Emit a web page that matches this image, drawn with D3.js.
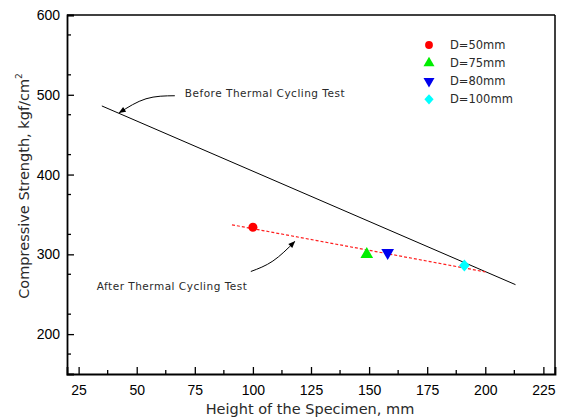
<!DOCTYPE html>
<html>
<head>
<meta charset="utf-8">
<script src="https://cdn.jsdelivr.net/npm/d3@7"></script>
<style>
  body { margin: 0; background: #fff; }
  .tick text { font-family: "Liberation Sans", Arial, sans-serif; font-size: 14px; fill: #000; }
  .lbl { font-family: "DejaVu Sans", Verdana, sans-serif; fill: #2a2a2a; }
</style>
</head>
<body>
<div id="container"></div>
<script>
// data
var xTicks = [25, 50, 75, 100, 125, 150, 175, 200, 225];
var yTicks = [200, 300, 400, 500, 600];

var seriesNames = ["D=50mm", "D=75mm", "D=80mm", "D=100mm"];
var seriesColors = ["#ff0000", "#00ee00", "#0000ee", "#00ffff"];
var seriesX = [100, 149, 158, 191];
var seriesY = [334, 300, 302, 286];

// fitted lines
var beforeLine = [[35, 486], [213, 262]];
var afterLine = [[91, 337], [200, 278]];

// annotations (data units)
var annBeforeText = [70.7, 497.5];
var annBeforeArrow = [[66.4, 498.8], [54, 495], [42.5, 477.5]];
var annAfterText = [32.8, 255];
var annAfterArrow = [[99.1, 278.5], [108.6, 291.6], [118, 316]];

var margin = {top: 15, right: 6, bottom: 45, left: 67},
    width = 561 - margin.left - margin.right,
    height = 419 - margin.top - margin.bottom;

var xScale = d3.scaleLinear().domain([20, 230]).range([0, width]);
var yScale = d3.scaleLinear().domain([150, 600]).range([height, 0]);

var svg = d3.select("#container").append("svg")
    .attr("width", 561)
    .attr("height", 419);
var g = svg.append("g")
    .attr("transform", "translate(" + margin.left + "," + margin.top + ")");

// arrowhead
svg.append("defs").append("marker")
    .attr("id", "arr")
    .attr("viewBox", "0 0 10 10")
    .attr("refX", 9).attr("refY", 5)
    .attr("markerWidth", 10).attr("markerHeight", 7)
    .attr("markerUnits", "userSpaceOnUse")
    .attr("orient", "auto")
  .append("path")
    .attr("d", "M0,1L10,5L0,9Z")
    .attr("fill", "#000");

// minor ticks
var xMinor = d3.range(12.5, 230, 25).filter(function(d) { return d > 20; });
var yMinor = d3.range(175, 600, 50);

g.selectAll(".xminor").data(xMinor).enter().append("line")
    .attr("x1", function(d) { return xScale(d); })
    .attr("x2", function(d) { return xScale(d); })
    .attr("y1", height).attr("y2", height - 4)
    .attr("stroke", "#000").attr("stroke-width", 1.3);
g.selectAll(".yminor").data(yMinor).enter().append("line")
    .attr("y1", function(d) { return yScale(d); })
    .attr("y2", function(d) { return yScale(d); })
    .attr("x1", 0).attr("x2", 4)
    .attr("stroke", "#000").attr("stroke-width", 1.3);

// axes
var xAxis = g.append("g")
    .attr("transform", "translate(0," + height + ")")
    .call(d3.axisBottom(xScale).tickValues(xTicks).tickSize(-7).tickPadding(9));
var yAxis = g.append("g")
    .call(d3.axisLeft(yScale).tickValues(yTicks).tickSize(-7).tickPadding(7));

[xAxis, yAxis].forEach(function(a) {
  a.select(".domain").attr("stroke-width", 1.8);
  a.selectAll(".tick line").attr("stroke-width", 1.3);
});
xAxis.selectAll(".tick text").attr("dy", "0.85em");

// frame top and right
g.append("line").attr("x1", 0).attr("x2", width).attr("y1", 0).attr("y2", 0)
    .attr("stroke", "#000").attr("stroke-width", 1.5);
g.append("line").attr("x1", width).attr("x2", width).attr("y1", 0).attr("y2", height)
    .attr("stroke", "#000").attr("stroke-width", 1.5);

var line = d3.line()
    .x(function(d) { return xScale(d[0]); })
    .y(function(d) { return yScale(d[1]); });

g.append("path").datum(beforeLine)
    .attr("d", line)
    .attr("fill", "none").attr("stroke", "#000").attr("stroke-width", 1);

g.append("path").datum(afterLine)
    .attr("d", line)
    .attr("fill", "none").attr("stroke", "#ff2020").attr("stroke-width", 1.2)
    .style("stroke-dasharray", "3,2");

// points
var shapes = [d3.symbolCircle, d3.symbolTriangle, d3.symbolTriangle, d3.symbolSquare];
var shapeTf = ["", "", "rotate(180)", "scale(0.9,1) rotate(45)"];
var sizes = [64, 70, 70, 70];

seriesX.forEach(function(x, i) {
  g.append("path")
    .attr("d", d3.symbol().type(shapes[i]).size(sizes[i]))
    .attr("transform", "translate(" + xScale(x) + "," + yScale(seriesY[i]) + ") " + shapeTf[i])
    .attr("fill", seriesColors[i]);
});

// legend
var leg = g.append("g").attr("transform", "translate(" + (429 - margin.left) + "," + (45 - margin.top) + ")");
seriesNames.forEach(function(name, i) {
  leg.append("path")
    .attr("d", d3.symbol().type(shapes[i]).size(sizes[i] * 0.75))
    .attr("transform", "translate(0," + (i * 18.1) + ") " + shapeTf[i])
    .attr("fill", seriesColors[i]);
  leg.append("text")
    .attr("class", "lbl")
    .attr("x", 21).attr("y", i * 18.1)
    .attr("dy", "0.36em")
    .style("font-size", "11.5px")
    .text(name);
});

// annotations
var curve = d3.line()
    .x(function(d) { return xScale(d[0]); })
    .y(function(d) { return yScale(d[1]); })
    .curve(d3.curveNatural);

g.append("path").datum(annBeforeArrow)
    .attr("d", curve)
    .attr("fill", "none").attr("stroke", "#000").attr("stroke-width", 1)
    .attr("marker-end", "url(#arr)");
g.append("path").datum(annAfterArrow)
    .attr("d", curve)
    .attr("fill", "none").attr("stroke", "#000").attr("stroke-width", 1)
    .attr("marker-end", "url(#arr)");

g.append("text").attr("class", "lbl")
    .attr("x", xScale(annBeforeText[0])).attr("y", yScale(annBeforeText[1]))
    .style("font-size", "10.5px").style("letter-spacing", "0.5px")
    .text("Before Thermal Cycling Test");
g.append("text").attr("class", "lbl")
    .attr("x", xScale(annAfterText[0])).attr("y", yScale(annAfterText[1]))
    .style("font-size", "10.5px").style("letter-spacing", "0.5px")
    .text("After Thermal Cycling Test");

// axis titles
svg.append("text").attr("class", "lbl")
    .attr("x", 310).attr("y", 414)
    .attr("text-anchor", "middle")
    .style("font-size", "14.5px")
    .text("Height of the Specimen, mm");

var yt = svg.append("text").attr("class", "lbl")
    .attr("transform", "translate(29,186) rotate(-90)")
    .attr("text-anchor", "middle")
    .style("font-size", "14.5px");
yt.append("tspan").text("Compressive Strength, kgf/cm");
yt.append("tspan").attr("dy", -7).style("font-size", "9px").text("2");
</script>
</body>
</html>
